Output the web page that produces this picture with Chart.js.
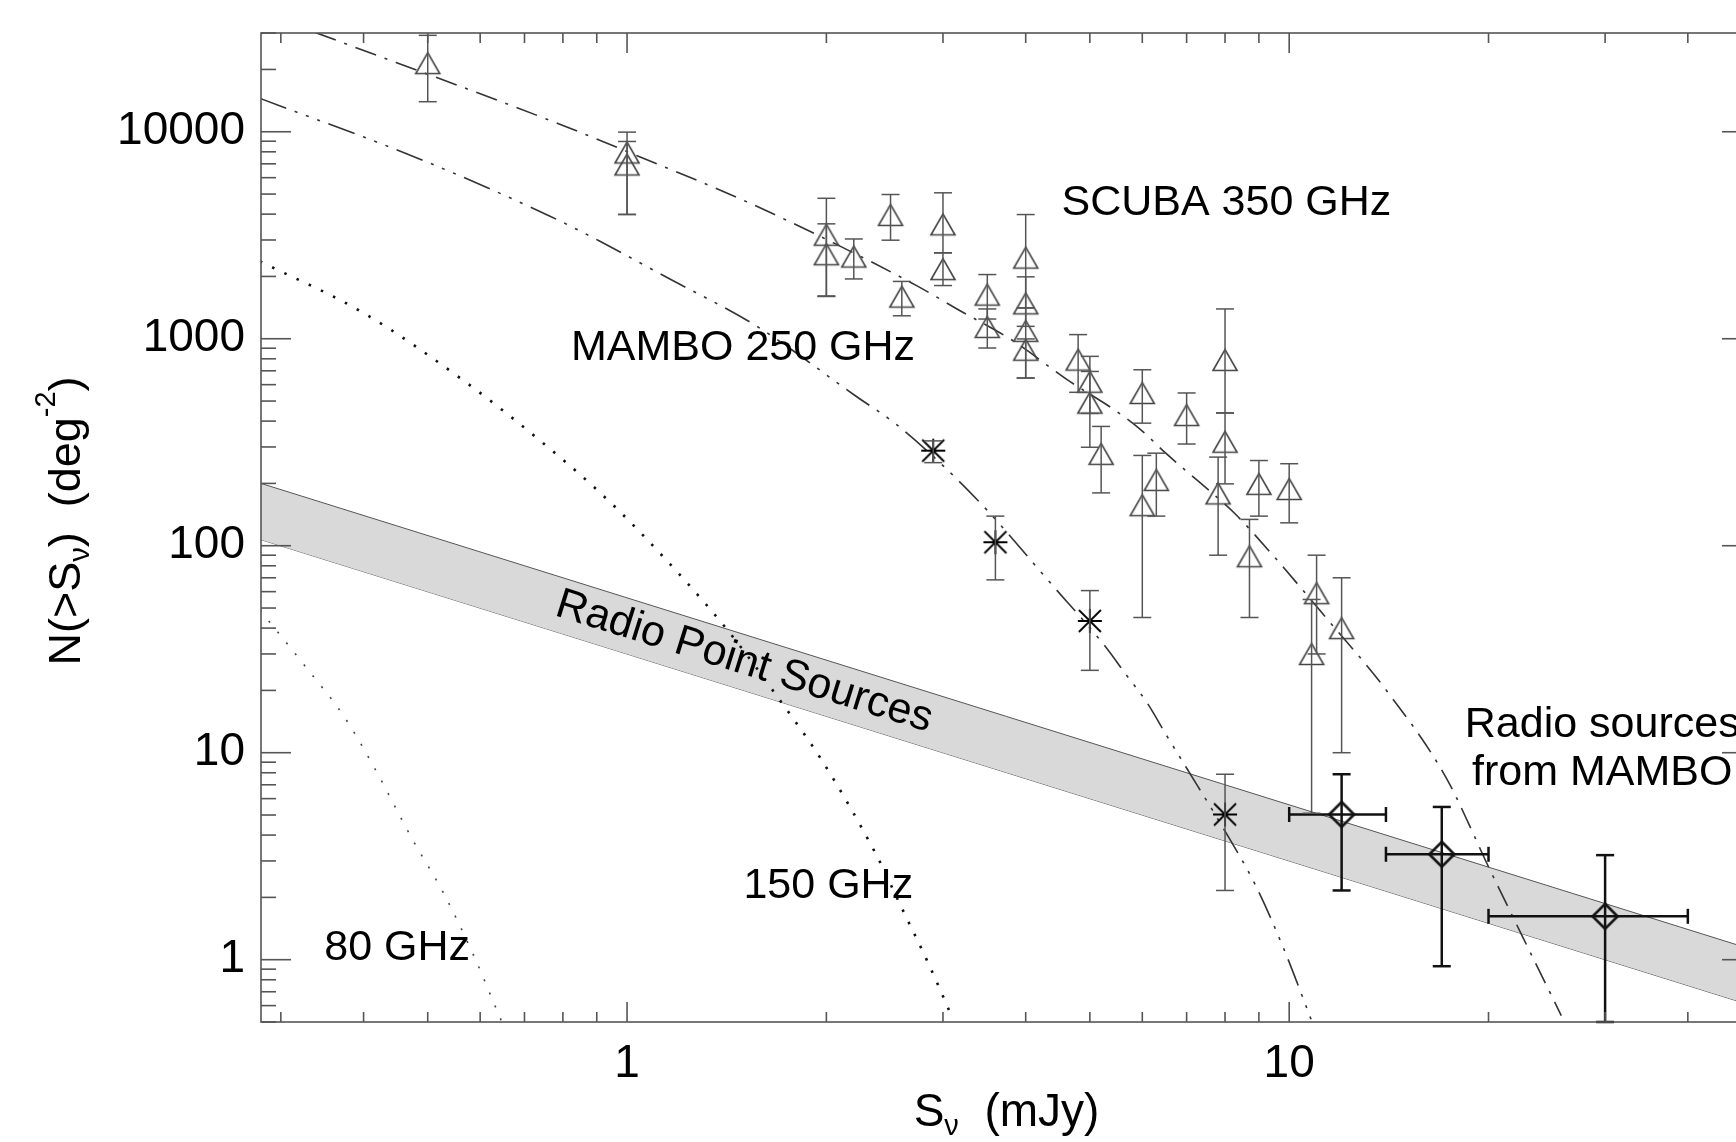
<!DOCTYPE html>
<html>
<head>
<meta charset="utf-8">
<script src="https://cdn.jsdelivr.net/npm/chart.js@4"></script>
<style>
  html, body { margin: 0; padding: 0; overflow: hidden; background: #fff; }
  #wrap { width: 1770px; height: 1142px; }
</style>
</head>
<body>
<div id="wrap"><canvas id="counts"></canvas></div>
<script>
// SCUBA 350 GHz counts (triangles)
const scubaFlux   = [0.5, 1.0, 1.0, 2.0, 2.0, 2.2, 2.5, 2.6, 3.0, 3.0, 3.5, 3.5, 4.0, 4.0, 4.0, 4.0, 4.8, 5.0, 5.0, 5.2, 6.0, 6.0, 6.3, 7.0, 7.81, 8.0, 8.0, 8.71, 9.0, 10.0, 10.81, 11.0, 12.0]
const scubaCounts = [21470, 7940, 6950, 3180, 2560, 2495, 3965, 1598, 3570, 2170, 1634, 1141, 2466, 1483, 1092, 885, 793, 620, 491, 278, 547, 157, 208, 428, 179, 790, 318, 89, 199, 188, 30, 59, 40]
const scubaLow    = [13970, 3980, 3990, 1600, 1610, 1945, 2993, 1291, 2600, 1807, 1245, 902, 1409, 1148, 646, 646, 551, 436, 299, 180, 391, 45, 139, 310, 90, 438, 199, 45, 139, 129, 5.1, 30, 10]
const scubaHigh   = [29230, 9960, 8975, 4770, 3590, 3034, 4975, 1892, 5070, 2600, 2042, 1393, 3981, 1991, 1409, 998, 1047, 822, 695, 377, 708, 273, 280, 547, 268, 1393, 438, 134, 258, 249, 55, 90, 70]

// MAMBO 250 GHz counts (asterisks)
const mamboFlux   = [2.9, 3.6, 5.0, 8.0]
const mamboCounts = [288, 104, 43.3, 5.03]
const mamboLow    = [252, 68.4, 25, 2.16]
const mamboHigh   = [321, 139, 60.7, 7.87]

// radio sources from MAMBO (diamonds)
const radioFlux     = [12.0, 17.0, 30.0]
const radioFluxLow  = [10.0, 14.0, 20.0]
const radioFluxHigh = [14.0, 20.0, 40.0]
const radioCounts   = [5.03, 3.23, 1.62]
const radioLow      = [2.16, 0.93, 0.5]
const radioHigh     = [7.87, 5.47, 3.2]

// model curves
const scubaModelFlux   = [0.338, 0.786, 1.04, 1.49, 2.05, 2.75, 3.15, 3.84, 4.62, 5.44, 5.97, 6.51, 7.60, 8.27, 9.39, 11.44, 13.94, 17.23, 20.12, 22.52, 25.76]
const scubaModelCounts = [30200, 10970, 7620, 4704, 2904, 1791, 1393, 971, 634, 454, 363, 280, 183, 143.5, 92, 43.8, 20.5, 7.64, 2.70, 1.29, 0.537]
const mamboModelFlux   = [0.279, 0.488, 0.765, 0.91, 1.14, 1.571, 2.22, 2.537, 2.9, 3.494, 4.32, 5.28, 5.65, 6.11, 6.5, 6.98, 7.93, 8.87, 9.79, 10.81]
const mamboModelCounts = [14500, 7350, 3908, 2958, 2003, 1148, 526, 391, 270, 149, 68.3, 32.5, 24.2, 17.3, 12.4, 8.55, 4.38, 2.33, 1.15, 0.508]
const model150Flux     = [0.279, 0.4, 0.573, 0.747, 0.901, 1.039, 1.411, 1.701, 1.975, 2.389, 2.588, 2.861, 3.097]
const model150Counts   = [2366, 1332, 611, 313, 186, 119, 39.9, 17.95, 9.04, 3.13, 1.83, 0.938, 0.527]
const model80Flux      = [0.279, 0.327, 0.374, 0.4133, 0.475, 0.529, 0.588, 0.6456]
const model80Counts    = [48.9, 26, 14.9, 8.7, 3.77, 2.08, 1.03, 0.508]

// radio point source band
const bandFlux  = [0.28, 50]
const bandUpper = [200, 1.12]
const bandLower = [107, 0.6]

const xTickLabels = [1, 10]
const yTickLabels = [1, 10, 100, 1000, 10000]

const notes = [
  { text: 'SCUBA 350 GHz', x: 4.53, y: 3981, align: 'left' },
  { text: 'MAMBO 250 GHz', x: 0.823, y: 791, align: 'left' },
  { text: '150 GHz', x: 1.499, y: 1.98, align: 'left' },
  { text: '80 GHz', x: 0.349, y: 0.993, align: 'left' },
  { text: 'Radio sources', x: 29.7, y: 11.9, align: 'center' },
  { text: 'from MAMBO', x: 29.7, y: 6.97, align: 'center' }
]
const bandNote = { text: 'Radio Point Sources', x: 1.503, y: 27.4 }

const FONT = "'Liberation Sans', Arial, Helvetica, sans-serif"
Chart.defaults.font.family = FONT

const pairs = (xs, ys) => xs.map((x, i) => ({ x, y: ys[i] }))

function logTicks(min, max) {
  const out = []
  for (let e = Math.floor(Math.log10(min)); e <= Math.ceil(Math.log10(max)); e++) {
    for (let m = 1; m < 10; m++) {
      const v = +(m * Math.pow(10, e)).toPrecision(6)
      if (v >= min && v <= max) out.push(v)
    }
  }
  return out
}
const isDecade = v => Math.abs(Math.log10(v) - Math.round(Math.log10(v))) < 1e-9

function symbol(w, h, draw) {
  const c = document.createElement('canvas')
  c.width = w
  c.height = h
  draw(c.getContext('2d'), w / 2, h / 2)
  return c
}
const triangle = symbol(28, 26, (g, cx, cy) => {
  g.strokeStyle = '#444'
  g.lineWidth = 1.6
  g.beginPath()
  g.moveTo(cx - 12, cy + 10.5)
  g.lineTo(cx, cy - 10.5)
  g.lineTo(cx + 12, cy + 10.5)
  g.closePath()
  g.stroke()
})
const asterisk = symbol(28, 28, (g, cx, cy) => {
  g.strokeStyle = '#000'
  g.lineWidth = 1.8
  g.beginPath()
  g.moveTo(cx - 12, cy); g.lineTo(cx + 12, cy)
  g.moveTo(cx, cy - 12); g.lineTo(cx, cy + 12)
  g.moveTo(cx - 11, cy - 11); g.lineTo(cx + 11, cy + 11)
  g.moveTo(cx - 11, cy + 11); g.lineTo(cx + 11, cy - 11)
  g.stroke()
})
const diamond = symbol(32, 32, (g, cx, cy) => {
  g.strokeStyle = '#111'
  g.lineWidth = 2.6
  g.beginPath()
  g.moveTo(cx, cy - 12.5)
  g.lineTo(cx + 12.5, cy)
  g.lineTo(cx, cy + 12.5)
  g.lineTo(cx - 12.5, cy)
  g.closePath()
  g.stroke()
})

function line(ctx, x0, y0, x1, y1) {
  ctx.beginPath()
  ctx.moveTo(x0, y0)
  ctx.lineTo(x1, y1)
  ctx.stroke()
}

const errorBars = {
  id: 'errorBars',
  afterDatasetsDraw(chart) {
    const { ctx, chartArea: a, scales: { x, y } } = chart
    ctx.save()
    ctx.beginPath()
    ctx.rect(a.left, a.top - 2, a.right - a.left, a.bottom - a.top + 4)
    ctx.clip()
    chart.data.datasets.forEach(ds => {
      const eb = ds.errorBars
      if (!eb) return
      ctx.strokeStyle = eb.color
      ctx.lineWidth = eb.width
      ds.data.forEach(p => {
        const px = x.getPixelForValue(p.x)
        const py = y.getPixelForValue(p.y)
        if (p.yMin !== undefined) {
          const y0 = y.getPixelForValue(p.yMin)
          const y1 = y.getPixelForValue(p.yMax)
          line(ctx, px, y0, px, y1)
          line(ctx, px - eb.cap, y0, px + eb.cap, y0)
          line(ctx, px - eb.cap, y1, px + eb.cap, y1)
        }
        if (p.xMin !== undefined) {
          const x0 = x.getPixelForValue(p.xMin)
          const x1 = x.getPixelForValue(p.xMax)
          line(ctx, x0, py, x1, py)
          line(ctx, x0, py - eb.xcap, x0, py + eb.xcap)
          line(ctx, x1, py - eb.xcap, x1, py + eb.xcap)
        }
      })
    })
    ctx.restore()
  }
}

function richText(ctx, parts, x, y, rotate) {
  ctx.save()
  ctx.translate(x, y)
  if (rotate) ctx.rotate(-Math.PI / 2)
  let total = 0
  parts.forEach(p => {
    ctx.font = `${p.size}px ${FONT}`
    p.w = ctx.measureText(p.t).width
    total += p.w
  })
  let cx = -total / 2
  ctx.fillStyle = '#000'
  ctx.textAlign = 'left'
  ctx.textBaseline = 'alphabetic'
  parts.forEach(p => {
    ctx.font = `${p.size}px ${FONT}`
    ctx.fillText(p.t, cx, p.dy || 0)
    cx += p.w
  })
  ctx.restore()
}

const frame = {
  id: 'frame',
  afterDraw(chart) {
    const { ctx, chartArea: a, scales: { x, y } } = chart
    ctx.save()
    ctx.strokeStyle = '#555'
    ctx.lineWidth = 1.6
    ctx.strokeRect(a.left, a.top, a.right - a.left, a.bottom - a.top)
    x.ticks.forEach(t => {
      const px = x.getPixelForValue(t.value)
      const len = isDecade(t.value) ? 20 : 10
      line(ctx, px, a.bottom, px, a.bottom - len)
      line(ctx, px, a.top, px, a.top + len)
    })
    y.ticks.forEach(t => {
      const py = y.getPixelForValue(t.value)
      const len = isDecade(t.value) ? 30 : 15
      line(ctx, a.left, py, a.left + len, py)
      line(ctx, a.right, py, a.right - len, py)
    })

    // annotations
    ctx.fillStyle = '#000'
    ctx.font = `43px ${FONT}`
    ctx.textBaseline = 'alphabetic'
    notes.forEach(n => {
      ctx.textAlign = n.align
      ctx.fillText(n.text, x.getPixelForValue(n.x), y.getPixelForValue(n.y))
    })
    const bx0 = x.getPixelForValue(bandFlux[0]), by0 = y.getPixelForValue(bandUpper[0])
    const bx1 = x.getPixelForValue(bandFlux[1]), by1 = y.getPixelForValue(bandUpper[1])
    ctx.save()
    ctx.translate(x.getPixelForValue(bandNote.x), y.getPixelForValue(bandNote.y))
    ctx.rotate(Math.atan2(by1 - by0, bx1 - bx0))
    ctx.textAlign = 'center'
    ctx.textBaseline = 'middle'
    ctx.fillText(bandNote.text, 0, 0)
    ctx.restore()

    // axis titles
    richText(ctx, [
      { t: 'S', size: 46 },
      { t: 'ν', size: 29, dy: 9 },
      { t: '  (mJy)', size: 46 }
    ], (a.left + a.right) / 2, 1126, false)
    richText(ctx, [
      { t: 'N(>S', size: 45 },
      { t: 'ν', size: 29, dy: 9 },
      { t: ')  (deg', size: 45 },
      { t: '-2', size: 29, dy: -25 },
      { t: ')', size: 45 }
    ], 80, 521, true)
    ctx.restore()
  }
}

const curve = (xs, ys, color, width, dash) => ({
  data: pairs(xs, ys),
  showLine: true,
  borderColor: color,
  borderWidth: width,
  borderDash: dash,
  pointRadius: 0,
  cubicInterpolationMode: 'monotone',
  fill: false,
  order: 5
})

const scubaPoints = scubaFlux.map((x, i) => ({ x, y: scubaCounts[i], yMin: scubaLow[i], yMax: scubaHigh[i] }))
const mamboPoints = mamboFlux.map((x, i) => ({ x, y: mamboCounts[i], yMin: mamboLow[i], yMax: mamboHigh[i] }))
const radioPoints = radioFlux.map((x, i) => ({
  x, y: radioCounts[i], xMin: radioFluxLow[i], xMax: radioFluxHigh[i], yMin: radioLow[i], yMax: radioHigh[i]
}))

const noPad = scale => {
  scale.paddingTop = 0
  scale.paddingBottom = 0
  scale.paddingLeft = 0
  scale.paddingRight = 0
}

new Chart(document.getElementById('counts'), {
  type: 'scatter',
  data: {
    datasets: [
      { data: radioPoints, pointStyle: diamond, pointRadius: 12, showLine: false, order: 0,
        errorBars: { color: '#111', width: 2.5, cap: 9, xcap: 7.5 } },
      { data: mamboPoints, pointStyle: asterisk, pointRadius: 12, showLine: false, order: 0,
        errorBars: { color: '#555', width: 1.5, cap: 9 } },
      { data: scubaPoints, pointStyle: triangle, pointRadius: 12, showLine: false, order: 0,
        errorBars: { color: '#555', width: 1.5, cap: 9 } },
      curve(scubaModelFlux, scubaModelCounts, '#333', 1.6, [22, 9, 3, 9]),
      curve(mamboModelFlux, mamboModelCounts, '#333', 1.6, [28, 9, 3, 9, 3, 9, 3, 9]),
      curve(model150Flux, model150Counts, '#111', 2.6, [2.5, 11]),
      curve(model80Flux, model80Counts, '#444', 1.6, [2, 12]),
      { data: pairs(bandFlux, bandUpper), showLine: true, borderColor: '#555', borderWidth: 1,
        backgroundColor: '#d9d9d9', fill: '+1', pointRadius: 0, order: 10 },
      { data: pairs(bandFlux, bandLower), showLine: true, borderColor: '#555', borderWidth: 1,
        fill: false, pointRadius: 0, order: 10 }
    ]
  },
  options: {
    responsive: true,
    maintainAspectRatio: false,
    animation: false,
    layout: { padding: { top: 33, right: 18, bottom: 0, left: 0 } },
    plugins: {
      legend: { display: false },
      tooltip: { enabled: false }
    },
    scales: {
      x: {
        type: 'logarithmic',
        position: 'bottom',
        min: 0.28,
        max: 50,
        grid: { display: false, drawTicks: false },
        border: { display: false },
        afterBuildTicks: scale => { scale.ticks = logTicks(0.28, 50).map(value => ({ value })) },
        afterFit: scale => { scale.height = 120; noPad(scale) },
        ticks: {
          autoSkip: false,
          maxRotation: 0,
          padding: 15,
          color: '#000',
          font: { size: 46 },
          callback: v => xTickLabels.includes(v) ? String(v) : ''
        }
      },
      y: {
        type: 'logarithmic',
        position: 'left',
        min: 0.5,
        max: 30000,
        grid: { display: false, drawTicks: false },
        border: { display: false },
        afterBuildTicks: scale => { scale.ticks = logTicks(0.5, 30000).map(value => ({ value })) },
        afterFit: scale => { scale.width = 261; noPad(scale) },
        ticks: {
          autoSkip: false,
          padding: 16,
          color: '#000',
          font: { size: 46 },
          callback: v => yTickLabels.includes(v) ? String(v) : ''
        }
      }
    }
  },
  plugins: [errorBars, frame]
})
</script>
</body>
</html>
